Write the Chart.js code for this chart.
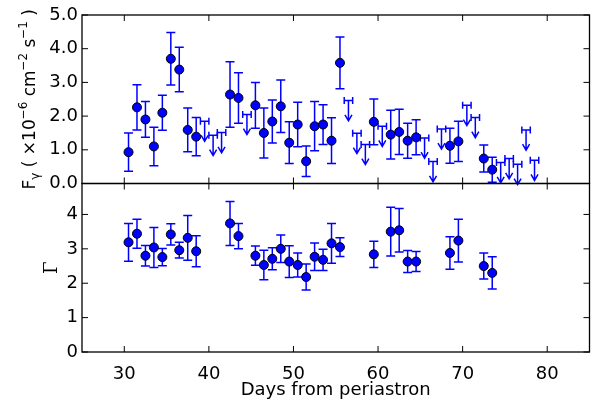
<!DOCTYPE html>
<html>
<head>
<meta charset="utf-8">
<script src="https://cdn.jsdelivr.net/npm/chart.js@4.4.1/dist/chart.umd.min.js"></script>
<style>
  html, body { margin: 0; padding: 0; background: #fff; }
  canvas { display: block; }
</style>
</head>
<body>
<canvas id="lightcurve" width="595" height="401"></canvas>
<script>
// 1-day bins, days from periastron
const days = [30.5, 31.5, 32.5, 33.5, 34.5, 35.5, 36.5, 37.5, 38.5, 42.5, 43.5, 45.5, 46.5, 47.5, 48.5, 49.5,
              50.5, 51.5, 52.5, 53.5, 54.5, 55.5, 59.5, 61.5, 62.5, 63.5, 64.5, 68.5, 69.5, 72.5, 73.5];
// flux, x10^-6 cm^-2 s^-1
const flux = [0.93, 2.26, 1.90, 1.10, 2.10, 3.70, 3.38, 1.59, 1.39, 2.64, 2.54, 2.32, 1.50, 1.84, 2.29, 1.21,
              1.75, 0.66, 1.70, 1.75, 1.27, 3.58, 1.83, 1.45, 1.53, 1.27, 1.37, 1.12, 1.25, 0.74, 0.41];
const fluxErr = [0.57, 0.67, 0.53, 0.57, 0.52, 0.78, 0.66, 0.65, 0.57, 0.97, 0.75, 0.68, 0.74, 0.64, 0.78, 0.62,
                 0.66, 0.45, 0.73, 0.59, 0.68, 0.77, 0.68, 0.72, 0.67, 0.52, 0.52, 0.52, 0.60, 0.40, 0.37];
// photon index
const gammaIdx = [3.19, 3.44, 2.80, 3.04, 2.76, 3.42, 2.96, 3.32, 2.93, 3.74, 3.37, 2.80, 2.53, 2.71, 3.00, 2.63,
                  2.53, 2.18, 2.77, 2.68, 3.16, 3.05, 2.84, 3.50, 3.54, 2.63, 2.63, 2.88, 3.24, 2.50, 2.30];
const gammaErr = [0.55, 0.42, 0.30, 0.58, 0.25, 0.31, 0.23, 0.65, 0.45, 0.64, 0.37, 0.28, 0.43, 0.32, 0.40, 0.46,
                  0.35, 0.38, 0.40, 0.31, 0.58, 0.27, 0.38, 0.71, 0.63, 0.32, 0.29, 0.47, 0.62, 0.38, 0.47];
// upper limits on flux
const ulDays = [39.5, 40.5, 41.5, 44.5, 56.5, 57.5, 58.5, 60.5, 65.5, 66.5, 67.5, 70.5, 71.5, 74.5, 75.5, 76.5, 77.5, 78.5];
const ulFlux = [1.85, 1.43, 1.51, 2.05, 2.46, 1.49, 1.16, 1.70, 1.35, 0.65, 1.62, 2.32, 1.96, 0.62, 0.74, 0.57, 1.59, 0.69];
const binHalf = 0.5;
const arrowLen = 0.6;

const dayTicks = [30, 40, 50, 60, 70, 80];
const fluxTicks = [0, 1, 2, 3, 4, 5];
const gammaTicks = [0, 1, 2, 3, 4];

const BLUE = '#0000ff';

Chart.defaults.font.family = 'DejaVu Sans';
Chart.defaults.font.size = 18;
Chart.defaults.color = '#000';

const setTicks = vals => s => { s.ticks = vals.map(v => ({ value: v })); };

const errorBars = {
    id: 'errorBars',
    beforeDatasetsDraw(chart) {
        const ctx = chart.ctx;
        const x = chart.scales.x, yF = chart.scales.yF, yG = chart.scales.yG;
        ctx.save();
        ctx.strokeStyle = BLUE;
        ctx.lineWidth = 1.5;
        const bar = (px, top, bot) => {
            ctx.beginPath();
            ctx.moveTo(px, top); ctx.lineTo(px, bot);
            ctx.moveTo(px - 4.5, top); ctx.lineTo(px + 4.5, top);
            ctx.moveTo(px - 4.5, bot); ctx.lineTo(px + 4.5, bot);
            ctx.stroke();
        };
        days.forEach((d, i) => {
            const px = x.getPixelForValue(d);
            bar(px, yF.getPixelForValue(flux[i] + fluxErr[i]), yF.getPixelForValue(flux[i] - fluxErr[i]));
            bar(px, yG.getPixelForValue(gammaIdx[i] + gammaErr[i]), yG.getPixelForValue(gammaIdx[i] - gammaErr[i]));
        });
        // upper limits: bin bar + down arrow
        ulDays.forEach((d, i) => {
            const px = x.getPixelForValue(d);
            const x0 = x.getPixelForValue(d - binHalf), x1 = x.getPixelForValue(d + binHalf);
            const py = yF.getPixelForValue(ulFlux[i]);
            const tip = yF.getPixelForValue(ulFlux[i] - arrowLen);
            ctx.beginPath();
            ctx.moveTo(x0, py); ctx.lineTo(x1, py);
            ctx.moveTo(x0, py - 3.5); ctx.lineTo(x0, py + 3.5);
            ctx.moveTo(x1, py - 3.5); ctx.lineTo(x1, py + 3.5);
            ctx.moveTo(px, py); ctx.lineTo(px, tip);
            ctx.moveTo(px - 3.5, tip - 6); ctx.lineTo(px, tip); ctx.lineTo(px + 3.5, tip - 6);
            ctx.stroke();
        });
        ctx.restore();
    }
};

// rotated label built from pieces: [text, scale, shift in em (up +)]
function drawRotated(ctx, parts, baseX, cy, size, family) {
    ctx.save();
    ctx.translate(baseX, cy);
    ctx.rotate(-Math.PI / 2);
    ctx.fillStyle = '#000';
    ctx.textBaseline = 'alphabetic';
    let total = 0;
    parts.forEach(p => { ctx.font = (size * p[1]) + 'px ' + family; total += ctx.measureText(p[0]).width; });
    let pos = -total / 2;
    parts.forEach(p => {
        ctx.font = (size * p[1]) + 'px ' + family;
        ctx.fillText(p[0], pos, -p[2] * size);
        pos += ctx.measureText(p[0]).width;
    });
    ctx.restore();
}

const frame = {
    id: 'frame',
    afterDraw(chart) {
        const ctx = chart.ctx, x = chart.scales.x;
        const l = chart.chartArea.left, r = chart.chartArea.right;
        ctx.save();
        ctx.strokeStyle = '#000';
        [chart.scales.yF, chart.scales.yG].forEach(y => {
            ctx.lineWidth = 1;
            ctx.beginPath();
            x.ticks.forEach(t => {
                const px = x.getPixelForValue(t.value);
                ctx.moveTo(px, y.top); ctx.lineTo(px, y.top + 6);
                ctx.moveTo(px, y.bottom); ctx.lineTo(px, y.bottom - 6);
            });
            y.ticks.forEach(t => {
                const py = y.getPixelForValue(t.value);
                ctx.moveTo(l, py); ctx.lineTo(l + 6, py);
                ctx.moveTo(r, py); ctx.lineTo(r - 6, py);
            });
            ctx.stroke();
            ctx.lineWidth = 1.3;
            ctx.strokeRect(l, y.top, r - l, y.bottom - y.top);
        });
        ctx.restore();

        const yF = chart.scales.yF, yG = chart.scales.yG;
        drawRotated(ctx, [['F', 1, 0], ['γ', 0.7, -0.25], [' ( ', 1, 0], ['×10', 1, 0], ['−6', 0.7, 0.45],
                          [' cm', 1, 0], ['−2', 0.7, 0.45], [' s', 1, 0], ['−1', 0.7, 0.45], [' )', 1, 0]],
                    35, (yF.top + yF.bottom) / 2, 17, 'DejaVu Sans');
        drawRotated(ctx, [['Γ', 1, 0]], 57, (yG.top + yG.bottom) / 2, 18, 'DejaVu Serif');
    }
};

const ctx = document.getElementById('lightcurve').getContext('2d');

const lightcurve = new Chart(ctx, {
    type: 'scatter',
    data: {
        datasets: [{
            label: 'Flux',
            data: days.map((d, i) => ({ x: d, y: flux[i] })),
            yAxisID: 'yF',
            backgroundColor: BLUE,
            borderColor: '#000',
            borderWidth: 1,
            pointRadius: 4.5
        }, {
            label: 'Photon index',
            data: days.map((d, i) => ({ x: d, y: gammaIdx[i] })),
            yAxisID: 'yG',
            backgroundColor: BLUE,
            borderColor: '#000',
            borderWidth: 1,
            pointRadius: 4.5
        }]
    },
    options: {
        responsive: false,
        animation: false,
        events: [],
        layout: { padding: { top: 15, right: 2, left: 0, bottom: 0 } },
        plugins: { legend: { display: false }, tooltip: { enabled: false } },
        scales: {
            x: {
                type: 'linear', position: 'bottom', min: 25, max: 85,
                grid: { display: false, drawTicks: false }, border: { display: false },
                afterBuildTicks: setTicks(dayTicks),
                afterFit: s => { s.height = 49; },
                ticks: { padding: 12, maxRotation: 0, autoSkip: false },
                title: { display: true, text: 'Days from periastron', padding: { top: 0, bottom: 0 } }
            },
            // bottom panel first: Chart.js stacks later scales above
            yG: {
                type: 'linear', position: 'left', stack: 'panels', stackWeight: 1, min: 0, max: 4.9,
                grid: { display: false, drawTicks: false }, border: { display: false },
                afterBuildTicks: setTicks(gammaTicks),
                afterFit: s => { s.width = 82; },
                ticks: { padding: 4, autoSkip: false, callback: v => String(v) }
            },
            yF: {
                type: 'linear', position: 'left', stack: 'panels', stackWeight: 1, min: 0, max: 5,
                grid: { display: false, drawTicks: false }, border: { display: false },
                afterBuildTicks: setTicks(fluxTicks),
                afterFit: s => { s.width = 82; },
                ticks: { padding: 4, autoSkip: false, callback: v => v.toFixed(1) }
            }
        }
    },
    plugins: [errorBars, frame]
});
</script>
</body>
</html>
